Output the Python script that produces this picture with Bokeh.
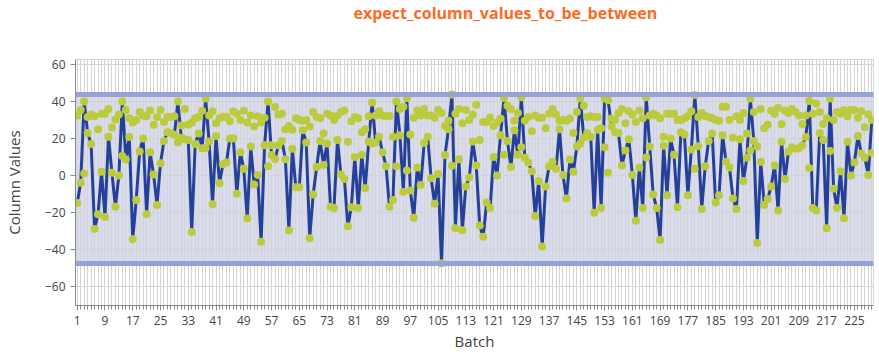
from bokeh.plotting import figure
from bokeh.layouts import column
from bokeh.models import FixedTicker, Span, BoxAnnotation, Range1d, ColumnDataSource, Label
from bokeh.embed import file_html
from bokeh.resources import INLINE

batches = list(range(1, 231))

line_values = [
    -15, -4, 40, 23, 17, -29, -21, 2, -22.5, 21,
    1.4, -17, 0, 40, 8.6, 20.8, -34.6, -13.3, 13, 20,
    -21, 12.6, 0.5, -16, 6.6, 18.7, 23.4, 23, 22, 40,
    20.4, 19.6, 19.2, -30.7, 17, 22.7, 14.7, 41.7, 18.3, -15.6,
    21.3, -4.2, 6, 7, 20, 20, -10, 12.6, 3.6, -23.4,
    15.6, -5, 0.2, -36, 16.4, 40, 11, 8.8, 16.4, 18.7,
    8.8, -29.8, 14.4, -6.4, -6.4, 24.4, 17.8, -34, -10.4, 4.5,
    18.7, 5.7, 17.3, -17, -17.7, 19.2, 0.5, -2, -27.5, -17.3,
    10, -17.7, 11.2, -7, 18.2, 39.5, 17.8, 21, 12.6, 5,
    -17, -13.3, 40, 21.8, -9, 42, -8.2, -23, 4.3, -5.2,
    17.5, 21, -1.6, -15.4, 0.8, -47.6, 11, 25, 43.8, -28.6,
    8.8, -29.7, -6, -1.2, 18.3, 5.4, -27.2, -33.3, -14.7, -17.7,
    10, 0, 21.8, 42, 18.7, 4.5, 24.4, 11.2, 42.4, 9.5,
    7, 2.3, -22, -3, -38.5, -6, 5, 7.4, 3.6, 25,
    0.2, -12.5, 8.6, 2, 15.6, 41.7, 20.4, 23, 21, -20.3,
    24.8, -17.7, 41.7, 40.7, 26.5, 23.4, 23, 5.4, 13.5, 19.6,
    0.2, -24.6, 4.3, -17.7, 42.4, 15.6, -10.4, -17.7, -35, 16.1,
    -10.7, 20, 11.2, -17.3, 23.4, 22.2, -10.7, 14, 43.5, 15.8,
    -18.2, 5, 18.7, 22.7, -14.7, -10.7, 21.8, 7.4, 4.3, -12.5,
    -18.2, 19.6, -3, 9.5, 41.7, 18.7, -36.7, 7.4, -16, -12.8,
    -6, 5.4, -19, 18.2, -2, 13, 15.2, 14.4, 14.7, 16.4,
    20.8, 40.3, -17.7, -19, 23, 19.2, -28.6, 41.7, -7.3, -17.7,
    2.3, -23.2, 18.2, 0, 7, 21.3, 11.8, 9.5, 0.2, 30,
]

point_values = [
    32.5, 35.5, 1, 31.7, 33, 32, 25, 33.4, 33.4, 36,
    26, 30.3, 33, 10.5, 35.5, 31, 28.6, 30, 34.3, 32.5,
    32, 35.2, 27.4, 31.7, 35.5, 29, 31.7, 31.7, 32, 17.8,
    27, 36, 27.4, 28.6, 31, 31.7, 35, 14.7, 32.5, 34.8,
    28.2, 31, 31.7, 31.7, 29.4, 34.6, 33.4, 30, 35, 28.6,
    32.5, 26.5, 32, 28.6, 31.3, 5, 16.4, 37, 33, 33.4,
    25, 26.8, 24.8, 31, 30, 29.6, 30, 26.5, 34.3, 31.7,
    31, 22.7, 33.4, 32.5, 30, 32.5, 34.3, 35.2, 18.2, 29.4,
    31.7, 31, 23.4, 25, 32, 17.3, 32.5, 34.8, 32.5, 32.2,
    32.2, 21, 5, 36, 37.2, 2.6, 22.2, 31.3, 35.2, 32.5,
    36, 32.5, 32.5, 31.2, 35.5, 33.8, 26.8, 29.6, 5.2, 33.4,
    36, 28.2, 35.5, 30, 33, 38.3, 19.2, 29, 29, 31.2,
    26.8, 28.6, 30.8, 11.2, 37.7, 36, 29.6, 33.8, 15.2, 29.6,
    31.7, 23.9, 32.5, 31.3, 31.2, 25.6, 33.4, 36, 33, 29.6,
    30, 29.6, 30.8, 23, 34.3, 17.3, 37.7, 31.7, 32, 31.7,
    31.7, 25.6, 15.2, 1.4, 30.8, 30, 33.8, 36, 28.2, 34.8,
    33, 29, 35.2, 31, 9.7, 32.5, 33.4, 32.5, 31, 21,
    33.4, 33.4, 33.4, 30, 30, 31, 32, 34.8, 3.6, 31.7,
    33.8, 32.2, 31.7, 31, 30, 29.6, 37.2, 37.2, 30, 20.4,
    32, 30, 33.8, 22.7, 13.5, 34.3, 15.6, 36, 25.6, 27.4,
    35.2, 33.4, 36.5, 27.7, 35.2, 33.8, 36, 34.3, 32.5, 27.9,
    32.5, 4, 33.4, 39, 34.3, 27.9, 31, 13.2, 30, 34.3,
    33.4, 35.5, 32, 35.5, 35.5, 31.2, 34.8, 26.1, 33, 12.2,
]

upper_bound = 43.8
lower_bound = -47.8
x_tick_labels = list(range(1, 231, 8))
y_ticks = [-60, -40, -20, 0, 20, 40, 60]
title_text = "expect_column_values_to_be_between"

FONT = "Open Sans"

# --- title strip (its own small canvas so the text is not clipped) ---
t = figure(width=879, height=59, output_backend="svg", toolbar_location=None,
           x_axis_type=None, y_axis_type=None, title_location=None,
           x_range=Range1d(0, 879), y_range=Range1d(0, 59),
           min_border_left=0, min_border_right=0, min_border_top=0, min_border_bottom=0)
t.outline_line_color = None
t.grid.visible = False
t.add_layout(Label(x=473.5, y=47, text=title_text, text_align="center",
                   text_baseline="middle", text_color="#ff6a1f", text_font=FONT,
                   text_font_size="16px", text_font_style="bold"))

# --- main chart ---
p = figure(width=879, height=294, output_backend="svg", toolbar_location=None,
           title_location=None,
           x_range=Range1d(0.5, 230.5), y_range=Range1d(-70.5, 62.8),
           min_border_left=74, min_border_right=6, min_border_top=0, min_border_bottom=44)

p.outline_line_color = "#d6d6d6"
p.background_fill_color = "white"

band = BoxAnnotation(bottom=lower_bound, top=upper_bound, fill_color="#d9dcee",
                     fill_alpha=1.0, line_color=None, level="image")
p.add_layout(band)

src_line = ColumnDataSource(dict(x=batches, y=line_values))
src_pts = ColumnDataSource(dict(x=batches, y=point_values))

p.line("x", "y", source=src_line, line_color="#25409a", line_width=3)

for loc in (upper_bound, lower_bound):
    p.add_layout(Span(location=loc, dimension="width", line_color="#97a3d5", line_width=5))

p.scatter("x", "y", source=src_pts, size=8, fill_color="#bccb3e", line_color=None)
p.scatter("x", "y", source=src_line, size=8, fill_color="#bccb3e", line_color=None)

p.xaxis.ticker = FixedTicker(ticks=x_tick_labels, minor_ticks=batches)
p.yaxis.ticker = FixedTicker(ticks=y_ticks)
p.xgrid.ticker = FixedTicker(ticks=x_tick_labels, minor_ticks=batches)
p.xgrid.grid_line_color = "#d4d4d4"
p.xgrid.minor_grid_line_color = "#d4d4d4"
p.ygrid.grid_line_color = "#d4d4d4"

for ax in (p.xaxis, p.yaxis):
    ax.axis_line_color = "#888888"
    ax.major_tick_line_color = "#888888"
    ax.minor_tick_line_color = "#888888"
    ax.major_tick_in = 0
    ax.major_tick_out = 5
    ax.minor_tick_in = 0
    ax.minor_tick_out = 4
    ax.major_label_text_font = FONT
    ax.major_label_text_font_size = "12px"
    ax.major_label_text_color = "#444444"
    ax.axis_label_text_font = FONT
    ax.axis_label_text_font_size = "15px"
    ax.axis_label_text_font_style = "normal"
    ax.axis_label_text_color = "#444444"

p.yaxis.minor_tick_line_color = None
p.xaxis.axis_label = "Batch"
p.yaxis.axis_label = "Column Values"
p.xaxis.axis_label_standoff = 3
p.yaxis.axis_label_standoff = 18

layout = column(t, p, spacing=0)

open("out.html", "w").write(file_html(layout, INLINE))
